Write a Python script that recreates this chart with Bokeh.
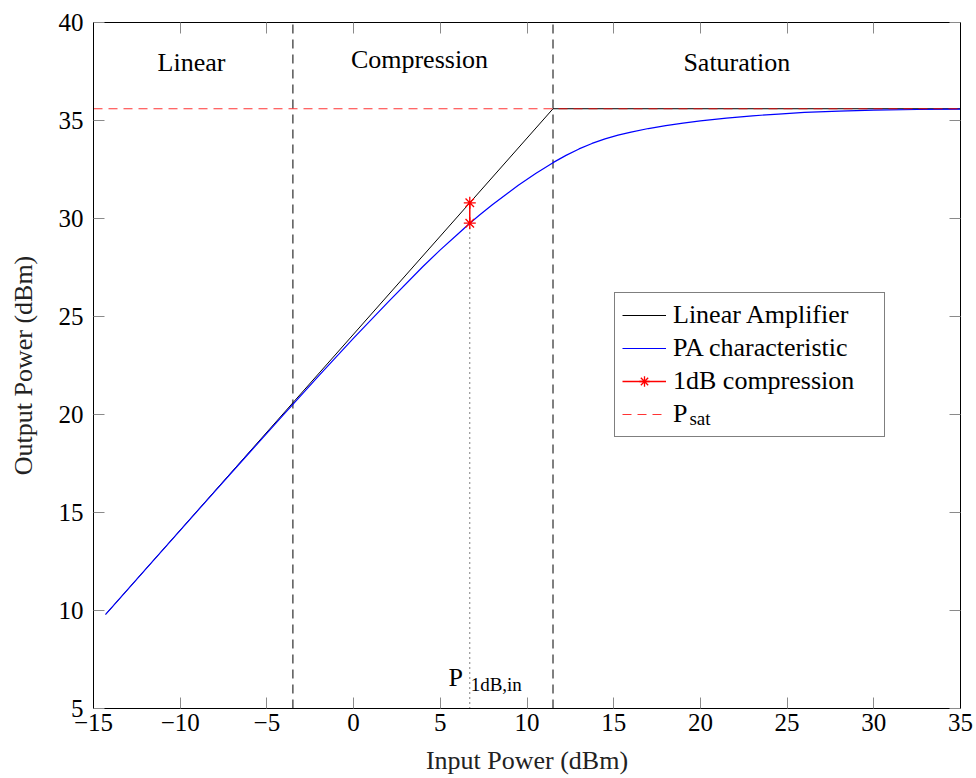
from bokeh.plotting import figure
from bokeh.models import (Range1d, FixedTicker, LinearAxis, Label, Legend, LegendItem)
from bokeh.embed import file_html
from bokeh.resources import INLINE

# ---------------- data ----------------
x_ticks = [-15, -10, -5, 0, 5, 10, 15, 20, 25, 30, 35]
y_ticks = [5, 10, 15, 20, 25, 30, 35, 40]
x_lim = [-15, 35]
y_lim = [5, 40]

lin_x = [-14.3, 11.5, 35]
lin_y = [9.8, 35.6, 35.6]

pa_x = [-14.3, -12, -10, -8, -6, -4, -3.5, -2, 0, 2, 4, 5, 6, 6.7, 7.3, 8, 8.75, 9.5,
        10.5, 11.5, 12.25, 13, 13.75, 14.5, 15.25, 16, 17, 18, 19, 20, 21.5, 23,
        24.5, 26, 28, 30, 32.5, 35]
pa_y = [9.8, 12.1, 14.09, 16.08, 18.06, 20.03, 20.52, 21.98, 23.9, 25.75, 27.55,
        28.4, 29.2, 29.76, 30.2, 30.7, 31.2, 31.7, 32.3, 32.85, 33.22, 33.55, 33.83,
        34.06, 34.25, 34.41, 34.59, 34.74, 34.87, 34.98, 35.12, 35.24, 35.33, 35.41,
        35.48, 35.53, 35.56, 35.58]

p1db_x = [6.7, 6.7]
p1db_y = [29.76, 30.8]

psat = 35.6
region_bounds = [-3.5, 11.5]
region_names = ["Linear", "Compression", "Saturation"]
region_x = [-9.35, 3.8, 22.1]
region_y = [37.95, 38.1, 37.95]

FONT = "Liberation Serif"

p = figure(width=976, height=778, output_backend="svg", toolbar_location=None,
           x_range=Range1d(*x_lim), y_range=Range1d(*y_lim),
           min_border_left=93, min_border_right=16, min_border_top=22,
           min_border_bottom=70)
p.grid.visible = False
p.outline_line_color = "black"
p.outline_line_width = 1
p.background_fill_color = "white"
p.border_fill_color = "white"

def style_axis(ax, ticks, show_labels=True):
    ax.ticker = FixedTicker(ticks=ticks)
    ax.major_tick_in = 11
    ax.major_tick_out = 0
    ax.minor_tick_line_color = None
    ax.major_tick_line_color = "#8a8a8a"
    ax.axis_line_color = "black"
    ax.major_label_text_font = FONT
    ax.major_label_text_color = "black"
    ax.major_label_text_font_size = "25px"
    if not show_labels:
        ax.major_label_overrides = {t: "" for t in ticks}
        ax.major_label_standoff = 0

style_axis(p.xaxis[0], x_ticks)
style_axis(p.yaxis[0], y_ticks)
p.xaxis[0].major_label_overrides = {-15: "\u221215", -10: "\u221210", -5: "\u22125"}
p.xaxis[0].major_label_standoff = 5
p.yaxis[0].major_label_standoff = 10

p.xaxis[0].axis_label = "Input Power (dBm)"
p.yaxis[0].axis_label = "Output Power (dBm)"
for ax in (p.xaxis[0], p.yaxis[0]):
    ax.axis_label_text_font = FONT
    ax.axis_label_text_font_size = "26px"
    ax.axis_label_text_font_style = "normal"
    ax.axis_label_text_color = "#222222"
p.xaxis[0].axis_label_standoff = 12
p.yaxis[0].axis_label_standoff = 18

top = LinearAxis()
right = LinearAxis()
style_axis(top, x_ticks, False)
style_axis(right, y_ticks, False)
p.add_layout(top, "above")
p.add_layout(right, "right")

# region boundaries (dashed)
p.segment(x0=region_bounds, y0=[y_lim[0]] * 2, x1=region_bounds, y1=[y_lim[1]] * 2,
          line_color="black", line_width=1, line_dash="9 6")
# dotted P1dB marker line
p.segment(x0=[p1db_x[0]], y0=[y_lim[0]], x1=[p1db_x[0]], y1=[p1db_y[0]],
          line_color="black", line_width=1, line_dash="1 4")

r_lin = p.line(lin_x, lin_y, line_color="black", line_width=1)
r_pa = p.line(pa_x, pa_y, line_color="#0000ff", line_width=1.2)
r_sat = p.line(x_lim, [psat, psat], line_color="red", line_width=1.2, line_dash="9 6",
               line_alpha=0.8)
r_cl = p.line(p1db_x, p1db_y, line_color="red", line_width=1.5)
r_cm = p.scatter(p1db_x, p1db_y, marker="asterisk", size=12, line_color="red",
                 line_width=1.3)

legend = Legend(items=[
    LegendItem(label="Linear Amplifier", renderers=[r_lin]),
    LegendItem(label="PA characteristic", renderers=[r_pa]),
    LegendItem(label="1dB compression", renderers=[r_cl, r_cm]),
    LegendItem(label="P", renderers=[r_sat]),
], location=(521, 271))
legend.border_line_color = "black"
legend.border_line_width = 1
legend.padding = 7
legend.margin = 0
legend.spacing = 3
legend.glyph_width = 44
legend.glyph_height = 26
legend.label_height = 26
legend.label_standoff = 7
legend.label_text_font = FONT
legend.label_text_font_size = "26px"
legend.label_text_color = "black"
legend.label_width = 204
legend.background_fill_alpha = 0
p.add_layout(legend, "center")

# region names
for name, xx, yy in zip(region_names, region_x, region_y):
    p.add_layout(Label(x=xx, y=yy, text=name, text_font=FONT, text_font_size="26px",
                       text_color="black", text_align="center",
                       text_baseline="alphabetic"))

# P_1dB,in annotation
p.add_layout(Label(x=5.47, y=6.6, text="P", text_font=FONT, text_font_size="26px",
                   text_color="black", text_align="left", text_baseline="alphabetic"))
p.add_layout(Label(x=6.75, y=6.2, text="1dB,in", text_font=FONT, text_font_size="19px",
                   text_color="black", text_align="left", text_baseline="alphabetic"))
# subscript of P_sat in legend
p.add_layout(Label(x=19.37, y=19.8, text="sat", text_font=FONT, text_font_size="19px",
                   text_color="black", text_align="left", text_baseline="alphabetic"))

open("out.html", "w").write(file_html(p, INLINE))
